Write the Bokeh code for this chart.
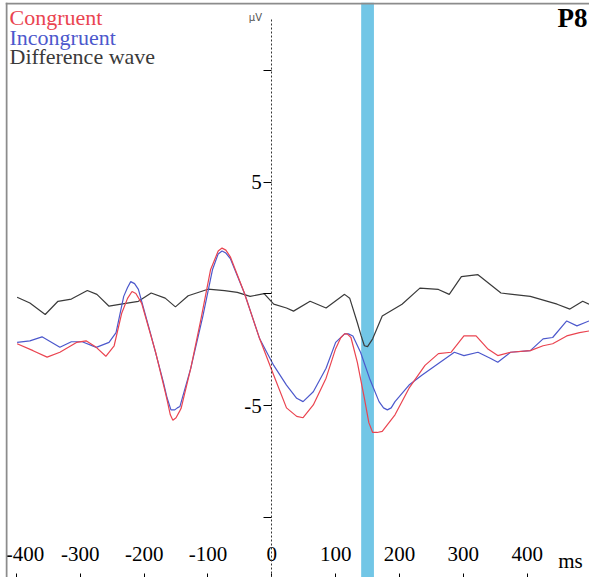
from bokeh.plotting import figure
from bokeh.models import Range1d, LinearAxis, FixedTicker, BoxAnnotation, Label, Span
from bokeh.embed import file_html
from bokeh.resources import INLINE

# ---------------- data ----------------
cong_t = [-399, -374, -352, -332, -306, -291, -275, -260, -247, -235,
          -226, -219, -213, -204, -182, -167, -164, -159, -155, -150,
          -145, -142, -127, -111, -96, -84, -78, -72, -65, -43,
          -19, 3, 23, 39, 49, 65, 85, 100, 108, 114,
          118, 124, 134, 145, 152, 158, 165, 173, 193, 215,
          240, 261, 281, 301, 320, 338, 354, 374, 405, 425,
          440, 462, 482, 497]
cong_v = [-2.23, -2.54, -2.83, -2.61, -2.17, -2.10, -2.39, -2.79, -2.32, -0.85,
          -0.20, 0.11, 0.02, -0.41, -2.61, -4.38, -4.75, -5.41, -5.65, -5.54,
          -5.28, -5.11, -3.33, -1.13, 1.08, 1.92, 2.05, 1.96, 1.66, 0.04,
          -2.01, -3.64, -5.10, -5.48, -5.54, -4.97, -3.77, -2.45, -1.96, -1.79,
          -1.79, -1.95, -3.06, -4.66, -5.76, -6.20, -6.20, -6.15, -5.41, -4.22,
          -3.20, -2.67, -2.61, -1.88, -1.88, -2.45, -2.76, -2.61, -2.54, -2.32,
          -2.23, -1.88, -1.73, -1.66]

incong_t = [-399, -379, -360, -332, -314, -297, -275, -255, -244, -232,
            -226, -221, -215, -209, -189, -170, -164, -158, -152, -148,
            -144, -127, -108, -93, -84, -78, -72, -65, -43, -19,
            3, 23, 39, 49, 65, 85, 100, 114, 120, 127,
            139, 153, 168, 175, 181, 187, 193, 215, 235, 261,
            286, 301, 323, 343, 354, 374, 405, 425, 440, 462,
            478, 497]
incong_v = [-2.17, -2.10, -1.92, -2.39, -2.14, -2.14, -2.39, -2.17, -1.73, -0.11,
            0.29, 0.55, 0.46, 0.20, -1.88, -3.94, -4.66, -5.19, -5.19, -5.10,
            -5.04, -3.33, -0.99, 1.08, 1.79, 1.92, 1.83, 1.58, 0.04, -2.01,
            -3.20, -4.08, -4.67, -4.82, -4.38, -3.33, -2.17, -1.79, -1.79, -1.88,
            -2.61, -3.77, -4.82, -5.10, -5.19, -5.10, -4.82, -4.08, -3.64, -3.11,
            -2.61, -2.76, -2.61, -2.89, -3.06, -2.61, -2.54, -2.01, -1.95, -1.21,
            -1.43, -1.21]

diff_t = [-399, -379, -355, -335, -314, -289, -274, -255, -229, -209, -189, -167, -151, -131,
          -100, -74, -54, -34, -12, 3, 23, 34, 60, 85, 114, 122, 134, 140, 145, 150, 158,
          173, 204, 232, 261, 278, 297, 323, 359, 405, 447, 467, 487, 497]
diff_v = [-0.15, -0.41, -0.92, -0.33, -0.23, 0.15, -0.02, -0.55, -0.42, -0.33, 0.04, -0.19,
          -0.58, -0.08, 0.21, 0.15, 0.07, -0.11, 0.01, -0.46, -0.63, -0.77, -0.33, -0.63,
          -0.02, -0.19, -1.29, -1.88, -2.32, -2.36, -2.01, -0.99, -0.46, 0.26, 0.20, -0.02,
          0.77, 0.86, 0.04, -0.11, -0.46, -0.68, -0.33, -0.46]

window_ms = [140, 160]

x_ticks = [-400, -300, -200, -100, 0, 100, 200, 300, 400]
# the first label sits right of its tick in the original (kept inside the frame)
x_tick_labels = ["\u00a0-400", "-300", "-200", "-100", "0", "100", "200", "300", "400"]
y_ticks = [-10, -5, 0, 5, 10]
y_tick_labels = ["", "-5", "", "5", ""]

series_names = ["Congruent", "Incongruent", "Difference wave"]
series_colors = ["#ea4450", "#4c58cc", "#3a3a3a"]
channel = "P8"

# ---------------- figure ----------------
SERIF = "Liberation Serif"
W, H = 589, 577
ML, MT = 5, 2
FH = H - MT

p = figure(width=W, height=H, output_backend="svg", toolbar_location=None,
           x_range=Range1d(-417.2, 497.7), y_range=Range1d(-12.69, 13.04),
           x_axis_location=None, y_axis_location=None, title=None,
           min_border_left=ML, min_border_top=MT, min_border_right=0, min_border_bottom=0)
p.outline_line_color = None
p.border_fill_color = "white"
p.background_fill_color = "white"
for g in p.grid:
    g.visible = False

band = BoxAnnotation(left=window_ms[0], right=window_ms[1], fill_color="#72c6e6",
                     fill_alpha=1.0, line_color=None, level="underlay")
p.add_layout(band)

# frame edges (left and top) as in the original plot window
p.add_layout(Span(location=1, location_units="screen", dimension="height",
                  line_color="#8c8c8c", line_width=2))
p.add_layout(Span(location=FH - 1, location_units="screen", dimension="width",
                  line_color="#8c8c8c", line_width=2))

yax = LinearAxis(fixed_location=0, ticker=FixedTicker(ticks=y_ticks),
                 major_label_overrides={t: s for t, s in zip(y_ticks, y_tick_labels)},
                 bounds=(-12.7, 12.34))
yax.axis_line_dash = "2 2"
yax.axis_line_color = "#333333"
yax.axis_line_width = 1
yax.major_tick_out = 8
yax.major_tick_in = 0
yax.minor_tick_out = 0
yax.minor_tick_in = 0
yax.major_tick_line_color = "black"
yax.major_label_standoff = 2
yax.major_label_text_font = SERIF
yax.major_label_text_font_size = "21px"
yax.major_label_text_color = "black"
p.add_layout(yax, "left")

xax = LinearAxis(fixed_location=-12.69, ticker=FixedTicker(ticks=x_ticks),
                 major_label_overrides={t: s for t, s in zip(x_ticks, x_tick_labels)})
xax.axis_line_color = "black"
xax.major_tick_out = 4
xax.major_tick_in = 0
xax.minor_tick_out = 0
xax.minor_tick_in = 0
xax.major_tick_line_color = "black"
xax.major_label_standoff = 8
xax.major_label_text_font = SERIF
xax.major_label_text_font_size = "21px"
xax.major_label_text_color = "black"
p.add_layout(xax, "above")

p.line(diff_t, diff_v, line_color=series_colors[2], line_width=1.2)
p.line(incong_t, incong_v, line_color=series_colors[1], line_width=1.2)
p.line(cong_t, cong_v, line_color=series_colors[0], line_width=1.2)

# legend as coloured text
for i, (name, col) in enumerate(zip(series_names, series_colors)):
    p.add_layout(Label(x=4, y=559.6 - 19.3 * i, x_units="screen", y_units="screen",
                       text=name, text_color=col, text_font=SERIF,
                       text_font_size="22px", text_baseline="alphabetic"))

p.add_layout(Label(x=582, y=559.4, x_units="screen", y_units="screen", text=channel,
                   text_align="right", text_baseline="alphabetic", text_font=SERIF,
                   text_font_style="bold", text_font_size="27px", text_color="black"))

p.add_layout(Label(x=256.5, y=560, x_units="screen", y_units="screen", text="µV",
                   text_align="right", text_baseline="alphabetic", text_font="DejaVu Sans",
                   text_font_size="10px", text_color="#555555"))

p.add_layout(Label(x=565, y=16.7, x_units="screen", y_units="screen", text="ms",
                   text_align="center", text_baseline="alphabetic", text_font=SERIF,
                   text_font_size="21px", text_color="black"))

open("out.html", "w").write(file_html(p, INLINE))
